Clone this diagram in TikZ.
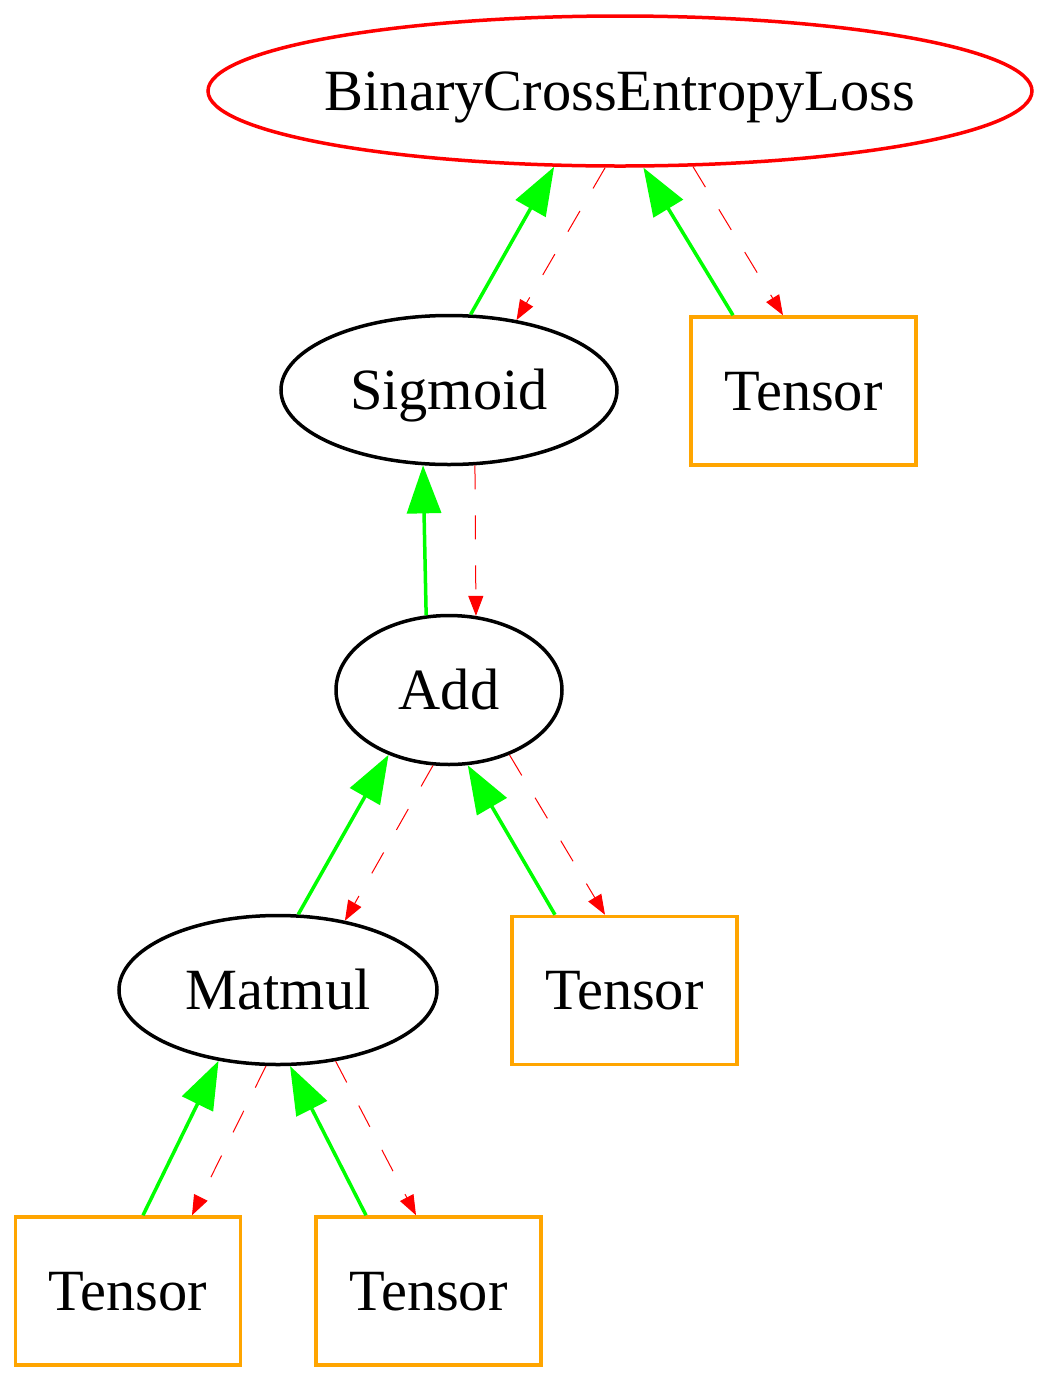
\documentclass[tikz,border=0pt]{standalone}
\usepackage{fontspec}
\setmainfont{Liberation Serif}
\usepackage{tikz}
\usetikzlibrary{arrows.meta,shapes.geometric}
\definecolor{gvgreen}{RGB}{0,255,0}
\definecolor{gvred}{RGB}{255,0,0}
\definecolor{gvorange}{RGB}{255,165,0}

\begin{document}
\begin{tikzpicture}[x=0.5pt, y=-0.5pt,
    every node/.style={font=\fontsize{29.2}{33}\selectfont, inner sep=0pt,
        text height=19pt, text depth=0pt},
    lossnode/.style={ellipse, draw=gvred, line width=1.75pt, inner xsep=-3pt,
        minimum width=412pt, minimum height=75pt},
    opnode/.style={ellipse, draw=black, line width=1.75pt, minimum height=74.5pt},
    leaf/.style={rectangle, draw=gvorange, line width=1.75pt, minimum width=112.5pt, minimum height=74pt},
    fwd/.style={draw=gvgreen, line width=1.75pt, -{Triangle[length=24pt,width=17pt]}},
    bwd/.style={draw=gvred, line width=0.5pt, dash pattern=on 12pt off 13pt,
        -{Triangle[length=10pt,width=7.5pt]}}]
    \useasboundingbox (0,0) rectangle (1056,1383);
    % nodes
    \node[lossnode] (bce) at (620,91) {BinaryCrossEntropyLoss};
    \node[opnode, minimum width=168pt] (sig) at (449,390) {Sigmoid};
    \node[leaf] (t1) at (803.5,391) {Tensor};
    \node[opnode, minimum width=113pt] (add) at (449,690) {Add};
    \node[opnode, minimum width=159pt] (mm) at (278,990) {Matmul};
    \node[leaf] (t2) at (624.5,990.5) {Tensor};
    \node[leaf] (t3) at (128,1291) {Tensor};
    \node[leaf] (t4) at (428.5,1291) {Tensor};
    % forward (green) and backward (red) edges
    \draw[fwd] (sig.74.5) -- (bce.229.3);
    \draw[bwd] (bce.259) -- (sig.46);
    \draw[fwd] ([xshift=-35.25pt]t1.north) -- (bce.287.5);
    \draw[bwd] (bce.314.6) -- ([xshift=-10.25pt]t1.north);
    \draw[fwd] (add.107.7) -- (sig.251);
    \draw[bwd] (sig.289) -- (add.70.4);
    \draw[fwd] (mm.75.3) -- (add.227.4);
    \draw[bwd] (add.258) -- (mm.46.3);
    \draw[fwd] ([xshift=-34.75pt]t2.north) -- (add.284);
    \draw[bwd] (add.313.7) -- ([xshift=-9.75pt]t2.north);
    \draw[fwd] ([xshift=7.5pt]t3.north) -- (mm.230);
    \draw[bwd] (mm.261) -- ([xshift=32pt]t3.north);
    \draw[fwd] ([xshift=-31.25pt]t4.north) -- (mm.279);
    \draw[bwd] (mm.309.8) -- ([xshift=-6.25pt]t4.north);
\end{tikzpicture}
\end{document}
